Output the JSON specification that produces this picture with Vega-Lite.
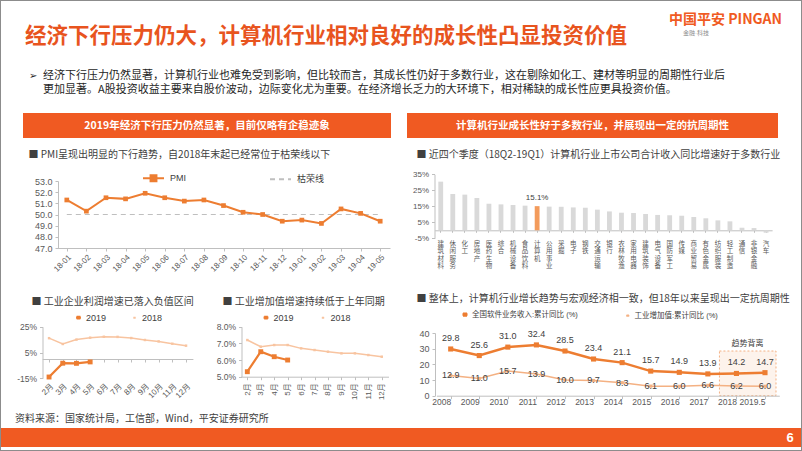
{
  "$schema": "https://vega.github.io/schema/vega-lite/v6.json",
  "width": 802,
  "height": 451,
  "autosize": {"type": "none"},
  "padding": 0,
  "background": "white",
  "view": {"stroke": "#8C8C8C", "strokeWidth": 2},
  "config": {
    "font": "Liberation Sans, Noto Sans CJK SC",
    "axis": {
      "grid": false,
      "domainColor": "#BFBFBF",
      "tickColor": "#BFBFBF",
      "labelColor": "#595959",
      "titleFont": "Noto Sans CJK SC",
      "titleFontWeight": "normal",
      "titleColor": "#404040",
      "titleFontSize": 10,
      "titleAngle": 0,
      "titleAlign": "left",
      "titleBaseline": "middle",
      "labelOverlap": false,
      "tickSize": 3
    },
    "legend": {"padding": 0, "labelColor": "#404040", "labelFontSize": 9}
  },
  "datasets": {
    "pmi": [
      {"month": "18-01", "PMI": 51.3}, {"month": "18-02", "PMI": 50.3}, {"month": "18-03", "PMI": 51.5},
      {"month": "18-04", "PMI": 51.4}, {"month": "18-05", "PMI": 51.9}, {"month": "18-06", "PMI": 51.5},
      {"month": "18-07", "PMI": 51.2}, {"month": "18-08", "PMI": 51.3}, {"month": "18-09", "PMI": 50.8},
      {"month": "18-10", "PMI": 50.2}, {"month": "18-11", "PMI": 50.0}, {"month": "18-12", "PMI": 49.4},
      {"month": "19-01", "PMI": 49.5}, {"month": "19-02", "PMI": 49.2}, {"month": "19-03", "PMI": 50.5},
      {"month": "19-04", "PMI": 50.1}, {"month": "19-05", "PMI": 49.4}
    ],
    "profit": [
      {"month": "2月", "year": "2019", "value": -14.0}, {"month": "3月", "year": "2019", "value": -3.3},
      {"month": "4月", "year": "2019", "value": -3.4}, {"month": "5月", "year": "2019", "value": -2.3},
      {"month": "2月", "year": "2018", "value": 16.1}, {"month": "3月", "year": "2018", "value": 11.6},
      {"month": "4月", "year": "2018", "value": 15.0}, {"month": "5月", "year": "2018", "value": 16.5},
      {"month": "6月", "year": "2018", "value": 17.2}, {"month": "7月", "year": "2018", "value": 17.1},
      {"month": "8月", "year": "2018", "value": 16.2}, {"month": "9月", "year": "2018", "value": 14.7},
      {"month": "10月", "year": "2018", "value": 13.6}, {"month": "11月", "year": "2018", "value": 11.8},
      {"month": "12月", "year": "2018", "value": 10.3}
    ],
    "va": [
      {"month": "2月", "year": "2019", "value": 5.3}, {"month": "3月", "year": "2019", "value": 6.5},
      {"month": "4月", "year": "2019", "value": 6.2}, {"month": "5月", "year": "2019", "value": 6.0},
      {"month": "2月", "year": "2018", "value": 7.2}, {"month": "3月", "year": "2018", "value": 6.8},
      {"month": "4月", "year": "2018", "value": 6.9}, {"month": "5月", "year": "2018", "value": 6.9},
      {"month": "6月", "year": "2018", "value": 6.7}, {"month": "7月", "year": "2018", "value": 6.6},
      {"month": "8月", "year": "2018", "value": 6.5}, {"month": "9月", "year": "2018", "value": 6.4},
      {"month": "10月", "year": "2018", "value": 6.4}, {"month": "11月", "year": "2018", "value": 6.3},
      {"month": "12月", "year": "2018", "value": 6.2}
    ],
    "ind": [
      {"industry": "建筑材料", "growth": 30.4}, {"industry": "休闲服务", "growth": 22.7},
      {"industry": "化工", "growth": 22.3}, {"industry": "房地产", "growth": 20.2},
      {"industry": "医药生物", "growth": 16.6}, {"industry": "综合", "growth": 16.2},
      {"industry": "机械设备", "growth": 15.8}, {"industry": "食品饮料", "growth": 15.4},
      {"industry": "计算机", "growth": 15.1}, {"industry": "公用事业", "growth": 14.8},
      {"industry": "采掘", "growth": 14.7}, {"industry": "电子", "growth": 14.3},
      {"industry": "钢铁", "growth": 14.1}, {"industry": "交通运输", "growth": 12.9},
      {"industry": "银行", "growth": 11.8}, {"industry": "农林牧渔", "growth": 11.0},
      {"industry": "家用电器", "growth": 10.8}, {"industry": "建筑装饰", "growth": 10.2},
      {"industry": "电气设备", "growth": 9.6}, {"industry": "国防军工", "growth": 9.4},
      {"industry": "传媒", "growth": 9.1}, {"industry": "商业贸易", "growth": 8.3},
      {"industry": "有色金属", "growth": 7.5}, {"industry": "纺织服装", "growth": 6.2},
      {"industry": "轻工制造", "growth": 5.6}, {"industry": "通信", "growth": 1.6},
      {"industry": "非银金融", "growth": 1.4}, {"industry": "汽车", "growth": -1.5}
    ],
    "soft": [
      {"year": "2008", "series": "全国软件业务收入:累计同比 (%)", "value": 29.8},
      {"year": "2009", "series": "全国软件业务收入:累计同比 (%)", "value": 25.6},
      {"year": "2010", "series": "全国软件业务收入:累计同比 (%)", "value": 31.0},
      {"year": "2011", "series": "全国软件业务收入:累计同比 (%)", "value": 32.4},
      {"year": "2012", "series": "全国软件业务收入:累计同比 (%)", "value": 28.5},
      {"year": "2013", "series": "全国软件业务收入:累计同比 (%)", "value": 23.4},
      {"year": "2014", "series": "全国软件业务收入:累计同比 (%)", "value": 21.1},
      {"year": "2015", "series": "全国软件业务收入:累计同比 (%)", "value": 15.7},
      {"year": "2016", "series": "全国软件业务收入:累计同比 (%)", "value": 14.9},
      {"year": "2017", "series": "全国软件业务收入:累计同比 (%)", "value": 13.9},
      {"year": "2018", "series": "全国软件业务收入:累计同比 (%)", "value": 14.2},
      {"year": "2019.5", "series": "全国软件业务收入:累计同比 (%)", "value": 14.7},
      {"year": "2008", "series": "工业增加值:累计同比 (%)", "value": 12.9},
      {"year": "2009", "series": "工业增加值:累计同比 (%)", "value": 11.0},
      {"year": "2010", "series": "工业增加值:累计同比 (%)", "value": 15.7},
      {"year": "2011", "series": "工业增加值:累计同比 (%)", "value": 13.9},
      {"year": "2012", "series": "工业增加值:累计同比 (%)", "value": 10.0},
      {"year": "2013", "series": "工业增加值:累计同比 (%)", "value": 9.7},
      {"year": "2014", "series": "工业增加值:累计同比 (%)", "value": 8.3},
      {"year": "2015", "series": "工业增加值:累计同比 (%)", "value": 6.1},
      {"year": "2016", "series": "工业增加值:累计同比 (%)", "value": 6.0},
      {"year": "2017", "series": "工业增加值:累计同比 (%)", "value": 6.6},
      {"year": "2018", "series": "工业增加值:累计同比 (%)", "value": 6.2},
      {"year": "2019.5", "series": "工业增加值:累计同比 (%)", "value": 6.0}
    ]
  },
  "layer": [
    {
      "data": {"values": [{}]},
      "mark": {"type": "rule", "x": 23, "x2": 778, "y": 55, "y2": 55, "color": "#E8541E", "strokeWidth": 2},
      "encoding": {}
    },
    {
      "data": {"values": [{}]},
      "mark": {"type": "rect", "x": 23, "x2": 391, "y": 113, "y2": 138, "color": "#F05A22"},
      "encoding": {}
    },
    {
      "data": {"values": [{}]},
      "mark": {"type": "rect", "x": 407, "x2": 778, "y": 113, "y2": 138, "color": "#F05A22"},
      "encoding": {}
    },
    {
      "data": {"values": [{}]},
      "mark": {"type": "rect", "x": 1, "x2": 801, "y": 428, "y2": 447, "color": "#F05A22"},
      "encoding": {}
    },
    {
      "data": {"values": [{}]},
      "mark": {"type": "rule", "x": 1, "x2": 801, "y": 449, "y2": 449, "color": "#55785C", "strokeWidth": 2},
      "encoding": {}
    },
    {
      "data": {"values": [{}]},
      "mark": {"type": "text", "x": 25, "y": 37, "align": "left", "baseline": "middle", "fontSize": 21.5, "fontWeight": "bold", "font": "Noto Sans CJK SC", "color": "#E8541E", "text": "经济下行压力仍大，计算机行业相对良好的成长性凸显投资价值"},
      "encoding": {}
    },
    {
      "data": {"values": [{}]},
      "mark": {"type": "text", "x": 669, "y": 20, "align": "left", "baseline": "middle", "fontSize": 14, "fontWeight": "bold", "font": "Noto Sans CJK SC", "color": "#F05A22", "text": "中国平安 PINGAN"},
      "encoding": {}
    },
    {
      "data": {"values": [{}]},
      "mark": {"type": "text", "x": 683, "y": 33, "align": "left", "baseline": "middle", "fontSize": 6, "color": "#8C8C8C", "text": "金融·科技"},
      "encoding": {}
    },
    {
      "data": {"values": [{}]},
      "mark": {"type": "text", "x": 29, "y": 75.5, "align": "left", "baseline": "middle", "fontSize": 10, "color": "#262626", "text": "➢"},
      "encoding": {}
    },
    {
      "data": {"values": [{}]},
      "mark": {"type": "text", "x": 43, "y": 75.5, "align": "left", "baseline": "middle", "fontSize": 11, "font": "Noto Sans CJK SC", "color": "#262626", "text": "经济下行压力仍然显著，计算机行业也难免受到影响，但比较而言，其成长性仍好于多数行业，这在剔除如化工、建材等明显的周期性行业后"},
      "encoding": {}
    },
    {
      "data": {"values": [{}]},
      "mark": {"type": "text", "x": 43, "y": 90, "align": "left", "baseline": "middle", "fontSize": 11, "font": "Noto Sans CJK SC", "color": "#262626", "text": "更加显著。A股投资收益主要来自股价波动，边际变化尤为重要。在经济增长乏力的大环境下，相对稀缺的成长性应更具投资价值。"},
      "encoding": {}
    },
    {
      "data": {"values": [{}]},
      "mark": {"type": "text", "x": 207, "y": 126, "align": "center", "baseline": "middle", "fontSize": 10.5, "fontWeight": "bold", "font": "Noto Sans CJK SC", "color": "white", "text": "2019年经济下行压力仍然显著，目前仅略有企稳迹象"},
      "encoding": {}
    },
    {
      "data": {"values": [{}]},
      "mark": {"type": "text", "x": 592.5, "y": 126, "align": "center", "baseline": "middle", "fontSize": 10.5, "fontWeight": "bold", "font": "Noto Sans CJK SC", "color": "white", "text": "计算机行业成长性好于多数行业，并展现出一定的抗周期性"},
      "encoding": {}
    },
    {
      "data": {"values": [{}]},
      "mark": {"type": "text", "x": 15, "y": 419, "align": "left", "baseline": "middle", "fontSize": 10, "font": "Noto Sans CJK SC", "color": "#404040", "text": "资料来源：国家统计局，工信部，Wind，平安证券研究所"},
      "encoding": {}
    },
    {
      "data": {"values": [{}]},
      "mark": {"type": "text", "x": 790, "y": 438, "align": "center", "baseline": "middle", "fontSize": 13, "fontWeight": "bold", "color": "white", "text": "6"},
      "encoding": {}
    },
    {
      "data": {"name": "pmi"},
      "layer": [
        {
          "mark": {"type": "line", "strokeDash": [5, 4], "strokeWidth": 1.2},
          "encoding": {
            "x": {"field": "month", "type": "ordinal", "scale": {"type": "point", "range": [57, 390], "padding": 0.5},
                  "axis": {"orient": "bottom", "offset": -203, "labelAngle": -45, "labelFontSize": 8, "labelPadding": 2, "title": null}},
            "y": {"datum": 50, "type": "quantitative", "scale": {"domain": [47, 53], "range": [248, 181], "nice": false, "zero": false},
                  "axis": {"orient": "left", "offset": -58, "values": [47, 48, 49, 50, 51, 52, 53], "format": ".1f", "labelFontSize": 9, "labelPadding": 3,
                           "title": "■ PMI呈现出明显的下行趋势，自2018年末起已经常位于枯荣线以下", "titleX": -30, "titleY": 154}},
            "color": {"datum": "枯荣线", "scale": {"domain": ["PMI", "枯荣线"], "range": ["#ED7D31", "#BFBFBF"]},
                      "legend": {"orient": "none", "legendX": 142, "legendY": 166.5, "direction": "horizontal", "title": null, "symbolSize": 441, "symbolStrokeWidth": 2, "columnPadding": 79, "labelOffset": 5,
                                 "encode": {"symbols": {"update": {
                                   "shape": {"signal": "datum.value === 'PMI' ? 'M-1,0H1M-0.28,-0.28H0.28V0.28H-0.28Z' : 'stroke'"},
                                   "fill": {"signal": "datum.value === 'PMI' ? '#ED7D31' : 'transparent'"},
                                   "stroke": {"signal": "datum.value === 'PMI' ? '#ED7D31' : '#BFBFBF'"},
                                   "strokeDash": {"signal": "datum.value === 'PMI' ? [1, 0] : [5, 4]"}}}}}}
          }
        },
        {
          "mark": {"type": "line", "strokeWidth": 2, "point": {"shape": "square", "size": 22, "filled": true}},
          "encoding": {
            "x": {"field": "month", "type": "ordinal"},
            "y": {"field": "PMI", "type": "quantitative"},
            "color": {"datum": "PMI"}
          }
        }
      ]
    },
    {
      "data": {"name": "ind"},
      "layer": [
        {
          "mark": {"type": "bar"},
          "encoding": {
            "x": {"field": "industry", "type": "nominal", "sort": null,
                  "scale": {"type": "band", "range": [434.7, 772.1], "paddingInner": 0.6, "paddingOuter": 0.3},
                  "axis": {"orient": "bottom", "offset": -220.7, "labelExpr": "split(datum.label, '')", "labelAngle": 0, "labelAlign": "center", "labelBaseline": "top",
                           "labelFontSize": 6.5, "labelLineHeight": 7.5, "labelPadding": 8, "tickSize": 2, "title": null}},
            "y": {"field": "growth", "type": "quantitative", "scale": {"domain": [-5, 35], "range": [238.3, 174.3], "nice": false, "zero": false},
                  "axis": {"orient": "left", "offset": -434.5, "values": [-5, 5, 15, 25, 35], "labelExpr": "datum.value + '%'", "labelFontSize": 8, "labelPadding": 3,
                           "title": "■ 近四个季度（18Q2-19Q1）计算机行业上市公司合计收入同比增速好于多数行业", "titleX": -18.5, "titleY": 154}},
            "color": {"condition": {"test": "datum.industry === '计算机'", "value": "#F39B5C"}, "value": "#D9D9D9"}
          }
        },
        {
          "transform": [{"filter": "datum.industry === '计算机'"}],
          "mark": {"type": "text", "dy": -8, "fontSize": 8, "color": "#404040", "text": {"expr": "format(datum.growth, '.1f') + '%'"}},
          "encoding": {
            "x": {"field": "industry", "type": "nominal", "sort": null},
            "y": {"field": "growth", "type": "quantitative"}
          }
        }
      ]
    },
    {
      "data": {"name": "profit"},
      "layer": [
        {
          "mark": {"type": "line"},
          "encoding": {
            "x": {"field": "month", "type": "ordinal",
                  "scale": {"type": "point", "domain": ["2月", "3月", "4月", "5月", "6月", "7月", "8月", "9月", "10月", "11月", "12月"], "range": [42.2, 192.9], "padding": 0.5},
                  "axis": {"orient": "bottom", "offset": -92, "labelAngle": -45, "labelFontSize": 8, "labelPadding": 20, "title": null}},
            "y": {"field": "value", "type": "quantitative", "scale": {"domain": [-15, 25], "range": [378.3, 326.7], "nice": false, "zero": false},
                  "axis": {"orient": "left", "offset": -42.5, "values": [-15, 5, 25], "labelExpr": "datum.value + '%'", "labelFontSize": 8.5, "labelPadding": 3,
                           "title": "■ 工业企业利润增速已落入负值区间", "titleX": -11.5, "titleY": 301}},
            "color": {"field": "year", "type": "nominal", "scale": {"domain": ["2019", "2018"], "range": ["#ED7D31", "#F8C4A0"]},
                      "legend": {"orient": "none", "legendX": 74, "legendY": 313, "direction": "horizontal", "title": null, "symbolSize": 289, "symbolStrokeWidth": 2, "columnPadding": 23, "labelOffset": 3,
                                 "encode": {"symbols": {"update": {
                                   "shape": {"value": "M-1,0H1M-0.3,-0.3H0.3V0.3H-0.3Z"},
                                   "fill": {"signal": "datum.value === '2019' ? '#ED7D31' : '#F8C4A0'"},
                                   "stroke": {"signal": "datum.value === '2019' ? '#ED7D31' : '#F8C4A0'"}}}}}},
            "strokeWidth": {"field": "year", "type": "ordinal", "scale": {"domain": ["2019", "2018"], "range": [2.2, 1.5]}, "legend": null}
          }
        },
        {
          "mark": {"type": "point", "shape": "square", "filled": true, "opacity": 1},
          "encoding": {
            "x": {"field": "month", "type": "ordinal"},
            "y": {"field": "value", "type": "quantitative"},
            "color": {"field": "year", "type": "nominal"},
            "size": {"field": "year", "type": "ordinal", "scale": {"domain": ["2019", "2018"], "range": [24, 6]}, "legend": null}
          }
        }
      ]
    },
    {
      "data": {"name": "va"},
      "layer": [
        {
          "mark": {"type": "line"},
          "encoding": {
            "x": {"field": "month", "type": "ordinal",
                  "scale": {"type": "point", "domain": ["2月", "3月", "4月", "5月", "6月", "7月", "8月", "9月", "10月", "11月", "12月"], "range": [240.6, 388.5], "padding": 0.5},
                  "axis": {"orient": "bottom", "offset": -74.3, "labelAngle": -90, "labelFontSize": 8, "labelPadding": 3, "title": null}},
            "y": {"field": "value", "type": "quantitative", "scale": {"domain": [5, 8], "range": [376.7, 326.7], "nice": false, "zero": false},
                  "axis": {"orient": "left", "offset": -241.5, "values": [5, 6, 7, 8], "labelExpr": "format(datum.value, '.1f') + '%'", "labelFontSize": 8.5, "labelPadding": 3,
                           "title": "■ 工业增加值增速持续低于上年同期", "titleX": -19.5, "titleY": 301}},
            "color": {"field": "year", "type": "nominal", "scale": {"domain": ["2019", "2018"], "range": ["#ED7D31", "#F8C4A0"]},
                      "legend": {"orient": "none", "legendX": 261.5, "legendY": 313, "direction": "horizontal", "title": null, "symbolSize": 289, "symbolStrokeWidth": 2, "columnPadding": 24, "labelOffset": 3,
                                 "encode": {"symbols": {"update": {
                                   "shape": {"value": "M-1,0H1M-0.3,-0.3H0.3V0.3H-0.3Z"},
                                   "fill": {"signal": "datum.value === '2019' ? '#ED7D31' : '#F8C4A0'"},
                                   "stroke": {"signal": "datum.value === '2019' ? '#ED7D31' : '#F8C4A0'"}}}}}},
            "strokeWidth": {"field": "year", "type": "ordinal", "scale": {"domain": ["2019", "2018"], "range": [2.2, 1.5]}, "legend": null}
          }
        },
        {
          "mark": {"type": "point", "shape": "square", "filled": true, "opacity": 1},
          "encoding": {
            "x": {"field": "month", "type": "ordinal"},
            "y": {"field": "value", "type": "quantitative"},
            "color": {"field": "year", "type": "nominal"},
            "size": {"field": "year", "type": "ordinal", "scale": {"domain": ["2019", "2018"], "range": [24, 6]}, "legend": null}
          }
        }
      ]
    },
    {
      "data": {"name": "soft"},
      "layer": [
        {
          "data": {"values": [{}]},
          "mark": {"type": "rect", "xOffset": -17, "x2Offset": 11, "fill": "#FDF3EC", "stroke": "#F4B183", "strokeDash": [2, 2], "strokeWidth": 1},
          "encoding": {
            "x": {"datum": "2018", "type": "ordinal"},
            "x2": {"datum": "2019.5"},
            "y": {"datum": 0, "type": "quantitative"},
            "y2": {"datum": 28.5}
          }
        },
        {
          "mark": {"type": "line"},
          "encoding": {
            "x": {"field": "year", "type": "ordinal", "scale": {"type": "point", "range": [436.4, 779.3], "padding": 0.5},
                  "axis": {"orient": "bottom", "offset": -55.3, "labelAngle": 0, "labelFontSize": 8.5, "labelPadding": 3, "title": null}},
            "y": {"field": "value", "type": "quantitative", "scale": {"domain": [0, 40], "range": [395.7, 333], "nice": false, "zero": false},
                  "axis": {"orient": "left", "offset": -435, "values": [0, 10, 20, 30, 40], "labelFontSize": 9, "labelPadding": 3,
                           "title": "■ 整体上，计算机行业增长趋势与宏观经济相一致，但18年以来呈现出一定抗周期性", "titleX": -19, "titleY": 298}},
            "color": {"field": "series", "type": "nominal", "scale": {"domain": ["全国软件业务收入:累计同比 (%)", "工业增加值:累计同比 (%)"], "range": ["#ED7D31", "#F4B183"]},
                      "legend": {"orient": "none", "legendX": 461, "legendY": 310.5, "direction": "horizontal", "title": null, "symbolSize": 289, "symbolStrokeWidth": 2, "columnPadding": 45, "labelOffset": 3, "labelFontSize": 7.5,
                                 "encode": {"symbols": {"update": {
                                   "shape": {"value": "M-1,0H1M-0.3,-0.3H0.3V0.3H-0.3Z"},
                                   "fill": {"signal": "datum.value === '工业增加值:累计同比 (%)' ? '#F4B183' : '#ED7D31'"},
                                   "stroke": {"signal": "datum.value === '工业增加值:累计同比 (%)' ? '#F4B183' : '#ED7D31'"}}}}}},
            "strokeWidth": {"field": "series", "type": "ordinal", "scale": {"domain": ["全国软件业务收入:累计同比 (%)", "工业增加值:累计同比 (%)"], "range": [2.5, 1.5]}, "legend": null}
          }
        },
        {
          "mark": {"type": "point", "shape": "square", "filled": true, "opacity": 1},
          "encoding": {
            "x": {"field": "year", "type": "ordinal"},
            "y": {"field": "value", "type": "quantitative"},
            "color": {"field": "series", "type": "nominal"},
            "size": {"field": "series", "type": "ordinal", "scale": {"domain": ["全国软件业务收入:累计同比 (%)", "工业增加值:累计同比 (%)"], "range": [26, 10]}, "legend": null}
          }
        },
        {
          "transform": [{"filter": "datum.series === '全国软件业务收入:累计同比 (%)'"}],
          "mark": {"type": "text", "dy": -11, "fontSize": 9, "color": "#404040"},
          "encoding": {
            "x": {"field": "year", "type": "ordinal"},
            "y": {"field": "value", "type": "quantitative"},
            "text": {"field": "value", "type": "quantitative", "format": ".1f"}
          }
        },
        {
          "transform": [{"filter": "datum.series === '工业增加值:累计同比 (%)'"}],
          "mark": {"type": "text", "dy": 0, "fontSize": 9, "color": "#404040"},
          "encoding": {
            "x": {"field": "year", "type": "ordinal"},
            "y": {"field": "value", "type": "quantitative"},
            "text": {"field": "value", "type": "quantitative", "format": ".1f"}
          }
        },
        {
          "data": {"values": [{}]},
          "mark": {"type": "text", "dx": 11, "fontSize": 8, "color": "#404040", "text": "趋势背离"},
          "encoding": {
            "x": {"datum": "2018", "type": "ordinal"},
            "y": {"datum": 33, "type": "quantitative"}
          }
        }
      ]
    }
  ],
  "resolve": {
    "scale": {"x": "independent", "y": "independent", "color": "independent", "size": "independent", "strokeWidth": "independent"},
    "axis": {"x": "independent", "y": "independent"},
    "legend": {"color": "independent"}
  }
}
